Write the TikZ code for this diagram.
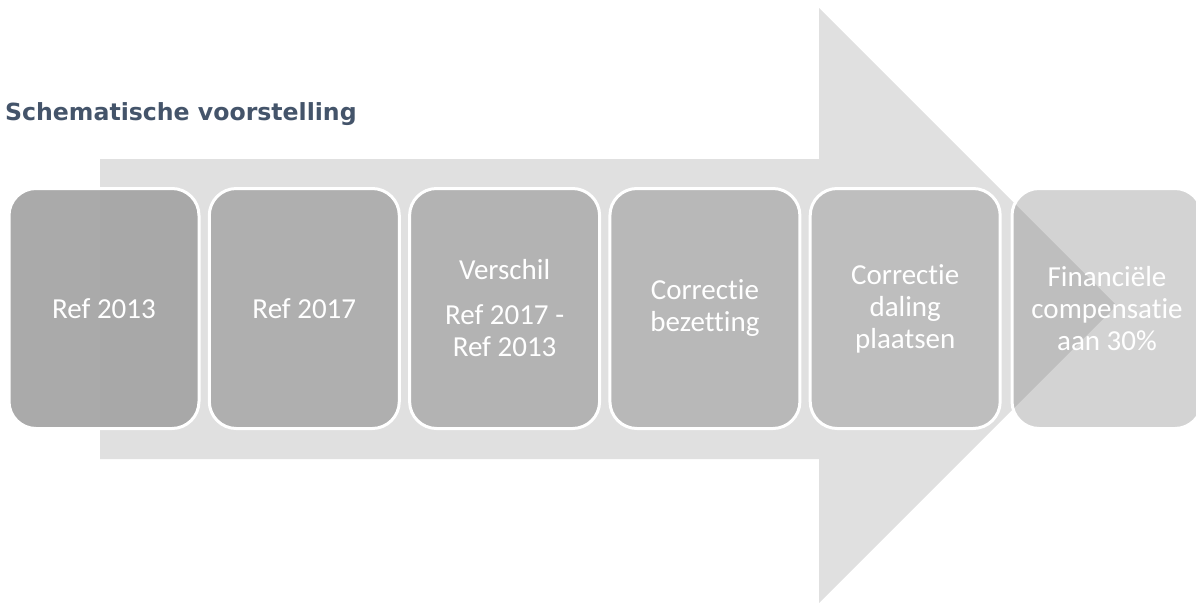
\documentclass[tikz,border=0pt]{standalone}
\usepackage{fontspec}
\setmainfont{Carlito}[Ligatures={NoCommon,NoRare}]
\newfontfamily\titlefont{DejaVu Sans}
\definecolor{arrowgray}{HTML}{E0E0E0}
\definecolor{titleblue}{HTML}{44546A}
\definecolor{cA}{HTML}{A4A4A4}
\definecolor{cB}{HTML}{AFAFAF}
\definecolor{cC}{HTML}{B3B3B3}
\definecolor{cD}{HTML}{B8B8B8}
\definecolor{cE}{HTML}{BEBEBE}
\definecolor{cF}{HTML}{777777}
\tikzset{
  procbox/.style={draw=white, line width=3pt, rounded corners=27pt,
    minimum width=190pt, minimum height=240pt, align=center,
    text=white, font=\fontsize{29}{32}\selectfont, inner sep=0pt},
}
\begin{document}
\begin{tikzpicture}[x=1pt,y=-1pt]
\useasboundingbox (0,0) rectangle (1196,605);
% big arrow
\fill[arrowgray] (100,159) -- (819,159) -- (819,8) -- (1116.5,305.5) -- (819,603) -- (819,459) -- (100,459) -- cycle;
% title
\node[anchor=base west, inner sep=0pt, text=titleblue, font=\titlefont\bfseries\fontsize{23.6}{28}\selectfont] (title) at (5,120) {Schematische voorstelling};
% boxes
\node[procbox, fill=cA, fill opacity=0.935, text opacity=1] (b1) at (104,308.5) {Ref 2013};
\node[procbox, fill=cB] (b2) at (304.3,308.5) {Ref 2017};
\node[procbox, fill=cC] (b3) at (504.6,308.5) {Verschil\\[13pt]Ref 2017 -\\Ref 2013};
\node[procbox, fill=cD] (b4) at (704.9,308.5) {Correctie\\bezetting};
\node[procbox, fill=cE] (b5) at (905.2,308.5) {Correctie\\daling\\plaatsen};
\node[procbox, fill=cF, fill opacity=0.32, text opacity=1] (b6) at (1107,308.5) {Financiële\\compensatie\\aan 30\%};
\end{tikzpicture}
\end{document}
